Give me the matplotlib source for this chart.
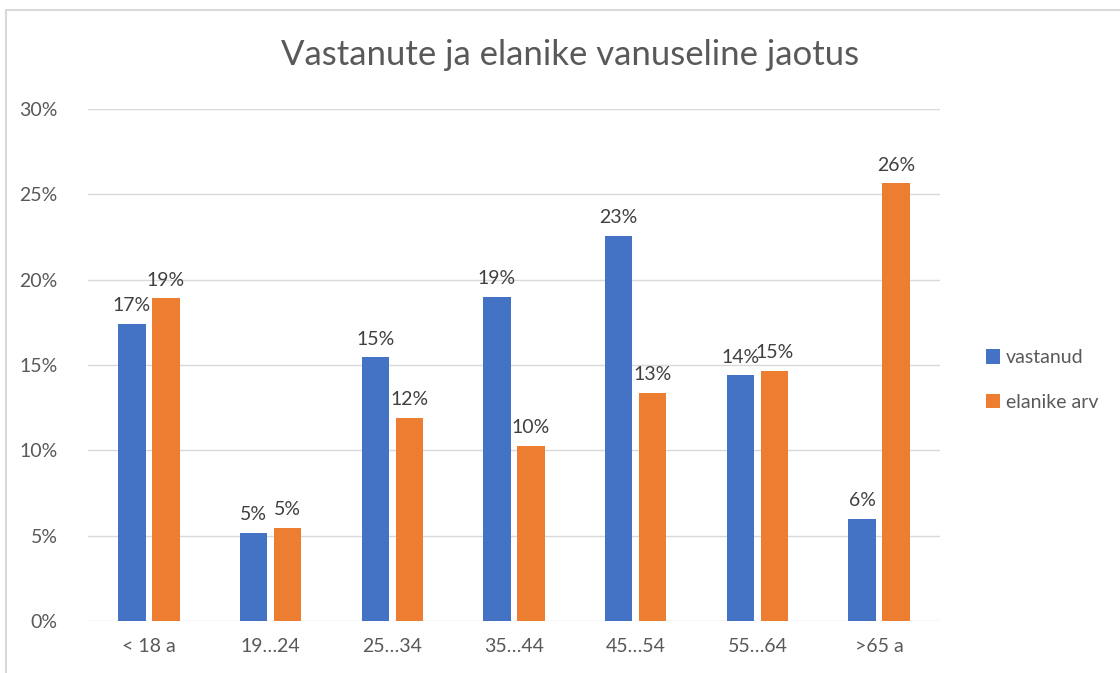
import matplotlib.pyplot as plt
import numpy as np
from matplotlib.patches import Rectangle

plt.rcParams["font.family"] = ["Lato", "DejaVu Sans"]

categories = ["< 18 a", "19…24", "25…34", "35…44", "45…54", "55…64", ">65 a"]
vastanud = [17.4, 5.15, 15.45, 19.0, 22.55, 14.4, 6.0]
elanike_arv = [18.9, 5.45, 11.9, 10.25, 13.35, 14.65, 25.65]

blue = "#4472C4"
orange = "#ED7D31"
text_col = "#595959"

fig = plt.figure(figsize=(11.2, 6.73), dpi=100)
ax = fig.add_axes([88 / 1120, 52 / 673, 852 / 1120, 512 / 673])

x = np.arange(len(categories))
w = 0.225
off = 0.14
b1 = ax.bar(x - off, vastanud, w, color=blue, label="vastanud", zorder=3)
b2 = ax.bar(x + off, elanike_arv, w, color=orange, label="elanike arv", zorder=3)

for bars in (b1, b2):
    for rect in bars:
        h = rect.get_height()
        ax.annotate(f"{h:.0f}%", (rect.get_x() + rect.get_width() / 2, h),
                    xytext=(0, 7), textcoords="offset points",
                    ha="center", va="bottom", fontsize=14, color="#404040")

ax.set_xlim(-0.5, len(categories) - 0.5)
ax.set_ylim(0, 30)
ax.set_yticks(range(0, 31, 5))
ax.set_yticklabels([f"{v}%" for v in range(0, 31, 5)])
ax.set_xticks(x)
ax.set_xticklabels(categories)
ax.tick_params(axis="both", length=0, labelsize=14, labelcolor=text_col)
ax.tick_params(axis="y", pad=22)
ax.tick_params(axis="x", pad=12)
ax.grid(axis="y", color="#d9d9d9", linewidth=1, zorder=0)
for s in ax.spines.values():
    s.set_visible(False)

fig.suptitle("Vastanute ja elanike vanuseline jaotus", x=570 / 1120, y=1 - 55 / 673,
             va="center", fontsize=25, color=text_col)

fig.legend(handles=[b1, b2], loc="center left", bbox_to_anchor=(968 / 1120, 1 - 380 / 673),
           frameon=False, fontsize=14, labelcolor=text_col, handlelength=0.75,
           handleheight=0.75, handletextpad=0.3, labelspacing=1.4)

fig.patches.append(Rectangle((6 / 1120, -0.1), 1.2, 1 - 10 / 673 + 0.1,
                             transform=fig.transFigure, fill=False,
                             edgecolor="#d9d9d9", linewidth=1.5))

fig.savefig("out.png", dpi=100)
